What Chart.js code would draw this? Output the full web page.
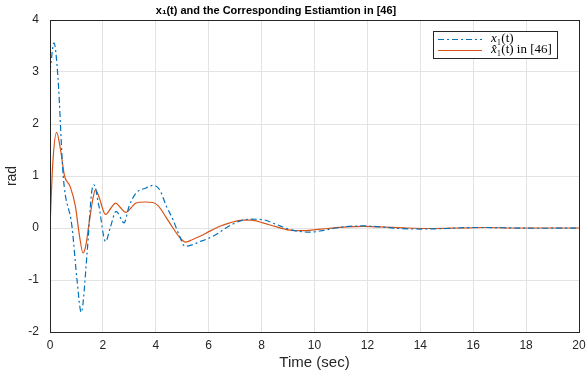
<!DOCTYPE html>
<html>
<head>
<meta charset="utf-8">
<script src="https://cdn.jsdelivr.net/npm/chart.js@4/dist/chart.umd.min.js"></script>
<style>
html,body{margin:0;padding:0;background:#fff;}
#wrap{width:587px;height:376px;position:relative;}
</style>
</head>
<body>
<div id="wrap"><canvas id="c" width="587" height="376"></canvas></div>
<script>
// x1(t) readings (time, value)
const x1Time = [0,0.15,0.3,0.5,0.83,1.02,1.18,1.4,1.57,1.66,1.85,2.1,2.29,2.5,2.8,2.99,3.25,3.63,3.89,4.14,4.4,4.65,4.9,5.1,5.4,5.67,5.9,6.3,6.65,7.1,7.54,8.05,8.5,9.06,9.5,9.82,10.3,10.8,11.3,11.85,12.5,13.2,14,15,16,16.5,17.5,18.5,20];
const x1Vals = [3.0,3.56,2.9,1.0,0.03,-0.99,-1.62,-0.5,0.67,0.83,0.42,-0.26,0.03,0.32,0.1,0.42,0.67,0.77,0.82,0.74,0.42,0.16,-0.16,-0.35,-0.32,-0.26,-0.22,-0.12,0.0,0.12,0.17,0.16,0.08,-0.03,-0.07,-0.08,-0.05,0.0,0.03,0.04,0.02,-0.01,-0.02,-0.01,0.01,0.01,0.0,-0.005,0.0];
// estimate in [46] readings
const estTime = [0,0.1,0.25,0.4,0.55,0.76,0.96,1.1,1.25,1.35,1.46,1.6,1.72,1.85,2.1,2.3,2.48,2.65,2.87,3.05,3.25,3.6,3.89,4.1,4.37,4.65,4.9,5.13,5.4,5.67,5.9,6.4,6.8,7.29,7.6,8.05,8.5,9.06,9.5,9.9,10.5,11.2,11.85,12.5,13.5,14.5,15.5,16.5,17.5,20];
const estVals = [0,1.2,1.84,1.5,1.0,0.8,0.42,-0.1,-0.48,-0.35,0.03,0.5,0.74,0.6,0.26,0.38,0.48,0.4,0.3,0.38,0.48,0.5,0.49,0.42,0.22,0.0,-0.18,-0.27,-0.22,-0.16,-0.1,0.03,0.1,0.15,0.15,0.1,0.03,-0.04,-0.05,-0.04,-0.01,0.02,0.03,0.02,0.0,-0.01,0.0,0.01,0.0,0.0];
const xTicks = [0,2,4,6,8,10,12,14,16,18,20];
const yTicks = [-2,-1,0,1,2,3,4];
const titleText = "x\u2081(t) and the Corresponding Estiamtion in [46]";
// legend labels split into italic symbol + upright remainder
const seriesSymbols = ["x", "x\u0302"];
const seriesRests = ["\u2081(t)", "\u2081(t) in [46]"];
const seriesNames = ["x\u2081(t)", "x\u0302\u2081(t) in [46]"];

const blue = '#0072BD', orange = '#D95319';

const framePlugin = {
  id: 'frame',
  afterDraw(chart) {
    const ctx = chart.ctx, a = chart.chartArea;
    ctx.save();
    ctx.strokeStyle = '#262626';
    ctx.lineWidth = 1;
    ctx.strokeRect(Math.round(a.left)+0.5, Math.round(a.top)+0.5, Math.round(a.right-a.left), Math.round(a.bottom-a.top));
    // title
    ctx.fillStyle = '#000';
    ctx.font = 'bold 11px "Liberation Sans", Arial, sans-serif';
    ctx.textAlign = 'center';
    ctx.textBaseline = 'middle';
    ctx.fillText(titleText, 276, 11);
    // legend
    const lx = 433, ly = 31, lw = 124, lh = 27;
    ctx.fillStyle = '#fff';
    ctx.fillRect(lx, ly, lw, lh);
    ctx.strokeStyle = '#262626';
    ctx.strokeRect(lx+0.5, ly+0.5, lw, lh);
    const rows = [{c: blue, d: [6,3,2,3], y: 39}, {c: orange, d: [], y: 50}];
    rows.forEach((r, i) => {
      ctx.strokeStyle = r.c;
      ctx.setLineDash(r.d);
      ctx.beginPath();
      ctx.moveTo(438, r.y + 0.5);
      ctx.lineTo(482, r.y + 0.5);
      ctx.stroke();
      ctx.setLineDash([]);
      ctx.fillStyle = '#000';
      ctx.textAlign = 'left';
      ctx.font = 'italic 13px "Liberation Serif", "DejaVu Serif", serif';
      ctx.fillText(seriesSymbols[i], 491, r.y);
      const w = ctx.measureText(seriesSymbols[i]).width;
      ctx.font = '13px "Liberation Serif", "DejaVu Serif", serif';
      ctx.fillText(seriesRests[i], 491 + w, r.y);
    });
    ctx.restore();
  }
};

new Chart(document.getElementById('c'), {
  type: 'line',
  data: {
    datasets: [
      {
        label: seriesNames[0],
        data: x1Time.map((t, i) => ({x: t, y: x1Vals[i]})),
        borderColor: blue,
        borderWidth: 1.2,
        borderDash: [6,3,2,3],
        pointRadius: 0,
        cubicInterpolationMode: 'monotone',
        fill: false
      },
      {
        label: seriesNames[1],
        data: estTime.map((t, i) => ({x: t, y: estVals[i]})),
        borderColor: orange,
        borderWidth: 1.2,
        pointRadius: 0,
        cubicInterpolationMode: 'monotone',
        fill: false
      }
    ]
  },
  options: {
    responsive: false,
    animation: false,
    layout: {padding: {top: 20, right: 8, left: 0, bottom: 0}},
    plugins: {legend: {display: false}, title: {display: false}, tooltip: {enabled: false}},
    scales: {
      x: {
        type: 'linear', min: 0, max: 20,
        afterBuildTicks: s => { s.ticks = xTicks.map(v => ({value: v})); },
        afterFit: s => { s.height = 44; s.paddingLeft = 0; s.paddingRight = 0; },
        grid: {color: '#e3e3e3', drawTicks: false},
        border: {display: false},
        ticks: {color: '#262626', padding: 6, maxRotation: 0, font: {family: '"Liberation Sans", Arial, sans-serif', size: 12}},
        title: {display: true, text: 'Time (sec)', color: '#262626', padding: {top: 0, bottom: 4}, font: {family: '"Liberation Sans", Arial, sans-serif', size: 15}}
      },
      y: {
        type: 'linear', min: -2, max: 4,
        afterBuildTicks: s => { s.ticks = yTicks.map(v => ({value: v})); },
        afterFit: s => { s.width = 50; s.paddingTop = 0; s.paddingBottom = 0; },
        grid: {color: '#e3e3e3', drawTicks: false},
        border: {display: false},
        ticks: {color: '#262626', padding: 11, font: {family: '"Liberation Sans", Arial, sans-serif', size: 12}},
        title: {display: true, text: 'rad', color: '#262626', padding: {top: 4, bottom: 0}, font: {family: '"Liberation Sans", Arial, sans-serif', size: 14}}
      }
    }
  },
  plugins: [framePlugin]
});
</script>
</body>
</html>
